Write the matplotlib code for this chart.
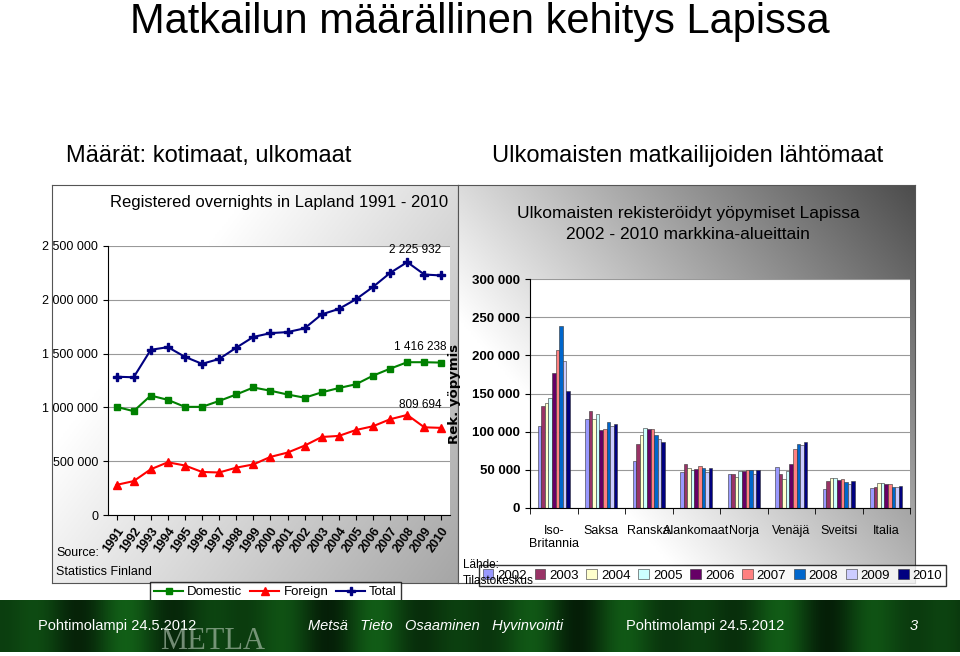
import numpy as np
import matplotlib.pyplot as plt

plt.rcParams["font.family"] = ["Liberation Sans Narrow", "Liberation Sans", "DejaVu Sans"]

years = list(range(1991, 2011))
total = [1285000, 1280000, 1535000, 1560000, 1470000, 1405000, 1450000, 1555000, 1655000, 1690000,
         1700000, 1735000, 1865000, 1915000, 2005000, 2120000, 2250000, 2350000, 2235000, 2225932]
domestic = [1005000, 965000, 1110000, 1070000, 1005000, 1005000, 1060000, 1120000, 1185000, 1155000,
            1120000, 1090000, 1140000, 1180000, 1215000, 1295000, 1360000, 1420000, 1420000, 1416238]
foreign = [280000, 315000, 425000, 490000, 460000, 400000, 395000, 440000, 470000, 540000,
           580000, 645000, 725000, 735000, 790000, 825000, 890000, 930000, 815000, 809694]

countries = ["Iso-\nBritannia", "Saksa", "Ranska", "Alankomaat", "Norja", "Venäjä", "Sveitsi", "Italia"]
bar_years = list(range(2002, 2011))
# rows = country, columns = 2002..2010 (thousands)
market = [
    [107, 134, 138, 144, 177, 207, 238, 193, 153],
    [116, 127, 116, 123, 102, 103, 113, 108, 110],
    [61, 84, 96, 105, 103, 104, 95, 91, 86],
    [47, 58, 52, 50, 51, 55, 52, 47, 53],
    [44, 44, 40, 48, 48, 50, 50, 44, 50],
    [54, 44, 38, 48, 58, 77, 84, 83, 86],
    [25, 35, 39, 39, 37, 38, 34, 31, 35],
    [26, 28, 33, 33, 32, 31, 28, 27, 29],
]
bar_colors = ["#9999FF", "#993366", "#FFFFCC", "#CCFFFF", "#660066", "#FF8080", "#0066CC", "#CCCCFF", "#000080"]


def fmt(v):
    return f"{int(v):,}".replace(",", " ")


fig = plt.figure(figsize=(9.6, 6.56), dpi=100)
W, H = 960, 656


def px(x0, y0, x1, y1):
    return [x0 / W, 1 - y1 / H, (x1 - x0) / W, (y1 - y0) / H]


# slide titles
fig.text(0.5, 1 - 22 / H, "Matkailun määrällinen kehitys Lapissa", ha="center", va="center",
         fontsize=30, family="Liberation Sans")
fig.text(66 / W, 1 - 156 / H, "Määrät: kotimaat, ulkomaat", ha="left", va="center", fontsize=17, family="Liberation Sans")
fig.text(688 / W, 1 - 156 / H, "Ulkomaisten matkailijoiden lähtömaat", ha="center", va="center", fontsize=17,
         family="Liberation Sans")

# panel backgrounds with gradient
def panel(x0, y0, x1, y1, dark):
    bg = fig.add_axes(px(x0, y0, x1, y1))
    gx, gy = np.meshgrid(np.linspace(0, 1, 200), np.linspace(0, 1, 200))
    g = 1 - dark * np.clip(gx * 0.8 + gy * 0.6 - 0.4, 0, 1)
    bg.imshow(np.dstack([g, g, g]), aspect="auto", extent=[0, 1, 0, 1], origin="lower" if dark > 0.6 else "upper")
    bg.set_xticks([]); bg.set_yticks([])
    for s in bg.spines.values():
        s.set_color("#555555"); s.set_linewidth(0.8)
    return bg

panel(52, 185, 458, 583, 0.35)
panel(458, 185, 915, 583, 0.7)

# left line chart
ax = fig.add_axes(px(108, 246, 450, 515))
ax.set_facecolor("white")
x = np.arange(len(years))
ax.plot(x, domestic, color="#008000", marker="s", ms=5, lw=1.5, label="Domestic")
ax.plot(x, foreign, color="#FF0000", marker="^", ms=6, lw=1.5, label="Foreign")
ax.plot(x, total, color="#000080", marker="P", ms=6, lw=1.5, label="Total")
ax.set_xlim(-0.5, len(years) - 0.5)
ax.set_ylim(0, 2500000)
ax.set_yticks(range(0, 2500001, 500000))
ax.set_yticklabels([fmt(v) for v in range(0, 2500001, 500000)], fontsize=9)
ax.set_xticks(x)
ax.set_xticklabels(years, rotation=55, fontsize=9, fontweight="bold", ha="right", rotation_mode="anchor")
ax.grid(axis="y", color="#999999", lw=0.8)
ax.set_axisbelow(True)
for s in ["top", "right"]:
    ax.spines[s].set_visible(False)
ax.set_ylabel("Overnights", fontsize=9, fontweight="bold", family="DejaVu Sans", labelpad=30)
ax.text(19, 2350000 + 60000, fmt(total[-1]), fontsize=8.5, ha="right", va="bottom")
ax.text(19.3, 1416238 + 90000, fmt(domestic[-1]), fontsize=8.5, ha="right", va="bottom")
ax.text(19, 930000 + 40000, fmt(foreign[-1]), fontsize=8.5, ha="right", va="bottom")
ax.set_title("Registered overnights in Lapland 1991 - 2010", fontsize=12, pad=28)
ax.legend(loc="upper center", bbox_to_anchor=(0.49, -0.225), ncol=3, fontsize=9.5, frameon=True,
          fancybox=False, edgecolor="black", handlelength=2.2, columnspacing=0.6, handletextpad=0.3,
          borderpad=0.3)
fig.text(56 / W, 1 - 556 / H, "Source:", fontsize=9)
fig.text(56 / W, 1 - 575 / H, "Statistics Finland", fontsize=9)

# right bar chart
bx = fig.add_axes(px(530, 279, 910, 508))
bx.set_facecolor("white")
data = np.array(market, dtype=float) * 1000
n = len(bar_years)
bw = 0.075
gx = np.arange(len(countries))
for i, yr in enumerate(bar_years):
    bx.bar(gx + (i - (n - 1) / 2) * bw, data[:, i], width=bw, color=bar_colors[i],
           edgecolor="#333333", lw=0.4, label=str(yr))
bx.set_xlim(-0.5, len(countries) - 0.5)
bx.set_ylim(0, 300000)
bx.set_yticks(range(0, 300001, 50000))
bx.set_yticklabels([fmt(v) for v in range(0, 300001, 50000)], fontsize=9.5, fontweight="bold")
bx.set_xticks(gx)
bx.set_xticklabels(countries, fontsize=9, va="top")
bx.tick_params(axis="x", length=0, pad=12)
bx.set_xticks(np.arange(len(countries) + 1) - 0.5, minor=True)
bx.tick_params(axis="x", which="minor", length=4)
bx.grid(axis="y", color="#999999", lw=0.8)
bx.set_axisbelow(True)
for s in ["top", "right"]:
    bx.spines[s].set_visible(False)
bx.set_ylabel("Rek. yöpymis", fontsize=9.5, fontweight="bold", family="DejaVu Sans", labelpad=8)
fig.text(688 / W, 1 - 224 / H, "Ulkomaisten rekisteröidyt yöpymiset Lapissa\n2002 - 2010 markkina-alueittain",
         ha="center", va="center", fontsize=12.5, linespacing=1.5)
bx.legend(loc="upper center", bbox_to_anchor=(0.48, -0.22), ncol=9, fontsize=9.5, frameon=True,
          fancybox=False, edgecolor="black", handlelength=0.8, handleheight=0.8, columnspacing=0.6,
          handletextpad=0.3, borderpad=0.3)
fig.text(463 / W, 1 - 568 / H, "Lähde:", fontsize=8.5)
fig.text(463 / W, 1 - 584 / H, "Tilastokeskus", fontsize=8.5)

# footer band
ft = fig.add_axes(px(0, 600, 960, 652))
fx = np.linspace(0, 1, 400)
stripe = 0.5 + 0.5 * np.sin(fx * 60) * np.sin(fx * 13)
r = 0.02 + 0.05 * stripe
gch = 0.12 + 0.25 * stripe
b = 0.03 + 0.06 * stripe
band = np.dstack([r, gch, b]).repeat(10, axis=0)
ft.imshow(band, aspect="auto", extent=[0, 1, 0, 1])
ft.axis("off")
fkw = dict(color="white", va="center", fontsize=10.5, family="Liberation Sans")
ft.text(38 / W, 0.5, "Pohtimolampi 24.5.2012", **fkw)
ft.text(160 / W, 0.2, "METLA", color="#BBCCBB", va="center", fontsize=22, family="Liberation Serif", alpha=0.6)
ft.text(308 / W, 0.5, "Metsä   Tieto   Osaaminen   Hyvinvointi", style="italic", **fkw)
ft.text(626 / W, 0.5, "Pohtimolampi 24.5.2012", **fkw)
ft.text(910 / W, 0.5, "3", style="italic", **fkw)

fig.savefig("out.png", dpi=100)
